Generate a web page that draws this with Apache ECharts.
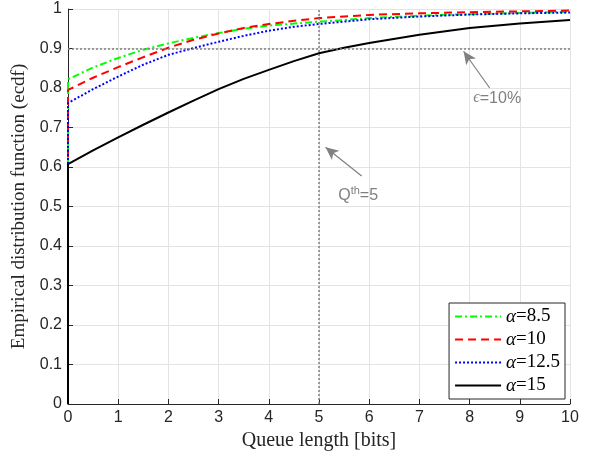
<!DOCTYPE html>
<html>
<head>
<meta charset="utf-8">
<script src="https://cdn.jsdelivr.net/npm/echarts@6/dist/echarts.min.js"></script>
<style>
  html, body { margin: 0; padding: 0; background: #fff; }
  #chart { width: 594px; height: 458px; }
</style>
</head>
<body>
<div id="chart"></div>
<script>
// queue length sample points (first two at 0: the jump of the ecdf)
var queueLen = [0, 0, 0.5, 1, 1.5, 2, 2.5, 3, 3.5, 4, 4.5, 5, 5.5, 6, 7, 8, 9, 10];
var ecdf85  = [0, 0.822, 0.852, 0.876, 0.897, 0.913, 0.927, 0.939, 0.950, 0.958, 0.963, 0.968, 0.972, 0.977, 0.983, 0.987, 0.990, 0.993];
var ecdf10  = [0, 0.795, 0.826, 0.853, 0.878, 0.902, 0.922, 0.938, 0.952, 0.962, 0.970, 0.977, 0.981, 0.985, 0.989, 0.992, 0.994, 0.996];
var ecdf125 = [0, 0.762, 0.797, 0.829, 0.859, 0.884, 0.901, 0.917, 0.932, 0.945, 0.955, 0.962, 0.968, 0.974, 0.981, 0.986, 0.989, 0.991];
var ecdf15  = [0, 0.607, 0.642, 0.675, 0.707, 0.738, 0.768, 0.797, 0.823, 0.846, 0.868, 0.888, 0.902, 0.914, 0.935, 0.952, 0.963, 0.972];
var seriesNames = ['α=8.5', 'α=10', 'α=12.5', 'α=15'];
var threshold = 5;   // Q^th
var epsLevel = 0.9;  // 1 - epsilon

function pairs(ys) {
  return queueLen.map(function (x, i) { return [x, ys[i]]; });
}

var serif = '"Liberation Serif", "DejaVu Serif", serif';
var sans = '"Liberation Sans", Arial, sans-serif';
var grey = '#808080';

var chart = echarts.init(document.getElementById('chart'), null, { renderer: 'canvas' });

function line(name, ys, color, type) {
  return {
    name: name,
    type: 'line',
    data: pairs(ys),
    showSymbol: false,
    symbol: 'none',
    animation: false,
    lineStyle: { color: color, width: 2, type: type },
    itemStyle: { color: color }
  };
}

var s15 = line(seriesNames[3], ecdf15, '#000000', 'solid');
s15.markLine = {
  silent: true,
  symbol: 'none',
  animation: false,
  label: { show: false },
  lineStyle: { color: grey, type: [2, 2], width: 1.5 },
  data: [
    { yAxis: epsLevel },
    { xAxis: threshold },
    [
      { coord: [8.4, 0.8], symbol: 'none' },
      { coord: [7.88, 0.893], symbol: 'arrow', symbolSize: [9, 13], lineStyle: { type: 'solid', width: 1.2, color: grey } }
    ],
    [
      { coord: [5.85, 0.577], symbol: 'none' },
      { coord: [5.13, 0.650], symbol: 'arrow', symbolSize: [9, 13], lineStyle: { type: 'solid', width: 1.2, color: grey } }
    ]
  ]
};
s15.markPoint = {
  silent: true,
  symbol: 'circle',
  symbolSize: 0,
  animation: false,
  label: {
    show: true,
    color: grey,
    fontFamily: sans,
    fontSize: 16,
    rich: {
      e: { fontFamily: serif, fontStyle: 'italic', fontSize: 16, color: grey },
      s: { fontFamily: sans, fontSize: 11, color: grey, verticalAlign: 'bottom', padding: [0, 0, 9, 0] },
      n: { fontFamily: sans, fontSize: 16, color: grey }
    }
  },
  data: [
    { coord: [8.55, 0.774], label: { formatter: '{e|ϵ}{n|=10%}' } },
    { coord: [5.78, 0.527], label: { formatter: '{n|Q}{s|th}{n|=5}' } }
  ]
};

chart.setOption({
  animation: false,
  backgroundColor: '#fff',
  grid: { left: 68, right: 24, top: 9, bottom: 54, containLabel: false },
  legend: {
    orient: 'vertical',
    right: 29,
    bottom: 59,
    itemWidth: 46,
    itemHeight: 14,
    itemGap: 4,
    padding: [4, 5, 4, 5],
    backgroundColor: '#fff',
    borderColor: '#262626',
    borderWidth: 1,
    borderRadius: 0,
    itemStyle: { opacity: 0 },
    textStyle: {
      fontFamily: serif,
      fontSize: 19,
      color: '#000',
      rich: {
        a: { fontFamily: serif, fontStyle: 'italic', fontSize: 19, color: '#000' },
        v: { fontFamily: serif, fontSize: 19, color: '#000' }
      }
    },
    formatter: function (name) {
      return '{a|α}{v|' + name.slice(1) + '}';
    },
    data: seriesNames
  },
  xAxis: {
    type: 'value',
    min: 0,
    max: 10,
    interval: 1,
    name: 'Queue length [bits]',
    nameLocation: 'middle',
    nameGap: 24,
    nameTextStyle: { fontFamily: serif, fontSize: 20, color: '#262626' },
    axisLine: { show: true, onZero: false, lineStyle: { color: '#262626', width: 1 } },
    axisTick: { show: true, inside: true, length: 5, lineStyle: { color: '#262626' } },
    axisLabel: { fontFamily: sans, fontSize: 16, color: '#262626', margin: 6 },
    splitLine: { show: true, lineStyle: { color: '#e3e3e3', width: 1 } }
  },
  yAxis: {
    type: 'value',
    min: 0,
    max: 1,
    interval: 0.1,
    name: 'Empirical distribution function (ecdf)',
    nameLocation: 'middle',
    nameGap: 36,
    nameTextStyle: { fontFamily: serif, fontSize: 19, color: '#262626' },
    axisLine: { show: true, lineStyle: { color: '#262626', width: 1 } },
    axisTick: { show: true, inside: true, length: 5, lineStyle: { color: '#262626' } },
    axisLabel: { fontFamily: sans, fontSize: 16, color: '#262626', margin: 6 },
    splitLine: { show: true, lineStyle: { color: '#e3e3e3', width: 1 } }
  },
  series: [
    line(seriesNames[0], ecdf85, '#00ff00', [7, 3, 2, 3]),
    line(seriesNames[1], ecdf10, '#ff0000', [8, 5]),
    line(seriesNames[2], ecdf125, '#0000ff', [2, 2]),
    s15
  ]
});
</script>
</body>
</html>
